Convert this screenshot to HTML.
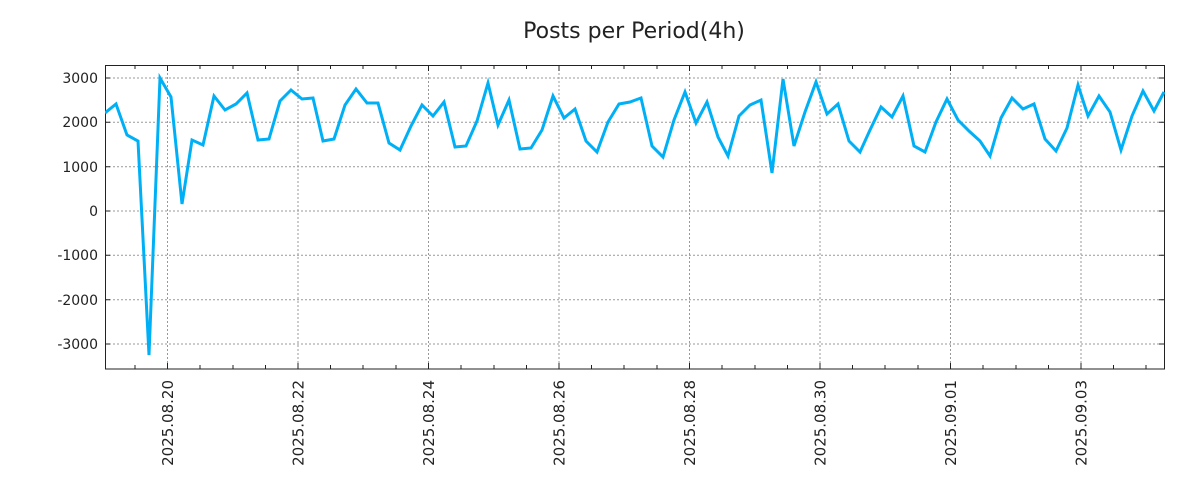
<!DOCTYPE html>
<html><head><style>body{margin:0;background:#fff}svg{display:block;font-family:"DejaVu Sans","Liberation Sans",sans-serif}</style></head>
<body>
<svg width="1200" height="500" viewBox="0 0 1200 500">
<rect width="1200" height="500" fill="#fff"/>
<text x="634" y="38" font-size="22" text-anchor="middle" fill="#222">Posts per Period(4h)</text>
<g stroke="#999" stroke-dasharray="2,2" stroke-width="1">
<line x1="105" x2="1164" y1="78" y2="78"/><line x1="105" x2="1164" y1="122.3" y2="122.3"/><line x1="105" x2="1164" y1="166.7" y2="166.7"/><line x1="105" x2="1164" y1="211" y2="211"/><line x1="105" x2="1164" y1="255.3" y2="255.3"/><line x1="105" x2="1164" y1="299.7" y2="299.7"/><line x1="105" x2="1164" y1="344" y2="344"/>
<line y1="65" y2="369" x1="167.5" x2="167.5"/><line y1="65" y2="369" x1="298" x2="298"/><line y1="65" y2="369" x1="428.5" x2="428.5"/><line y1="65" y2="369" x1="559" x2="559"/><line y1="65" y2="369" x1="689.5" x2="689.5"/><line y1="65" y2="369" x1="820" x2="820"/><line y1="65" y2="369" x1="950.5" x2="950.5"/><line y1="65" y2="369" x1="1081" x2="1081"/>
</g>
<g stroke="#222" stroke-width="1">
<path d="M105,78h5M105,122.3h5M105,166.7h5M105,211h5M105,255.3h5M105,299.7h5M105,344h5M1164,78h-5M1164,122.3h-5M1164,166.7h-5M1164,211h-5M1164,255.3h-5M1164,299.7h-5M1164,344h-5"/>
<path d="M135,65v4M167.5,65v6M200,65v4M233,65v4M265.5,65v4M298,65v6M330.5,65v4M363,65v4M396,65v4M428.5,65v6M461,65v4M494,65v4M526.5,65v4M559,65v6M591.5,65v4M624,65v4M657,65v4M689.5,65v6M722,65v4M755,65v4M787.5,65v4M820,65v6M852.5,65v4M885,65v4M918,65v4M950.5,65v6M983,65v4M1016,65v4M1048.5,65v4M1081,65v6M1113.5,65v4M1146,65v4"/>
<path d="M135,369v-4M167.5,369v-6M200,369v-4M233,369v-4M265.5,369v-4M298,369v-6M330.5,369v-4M363,369v-4M396,369v-4M428.5,369v-6M461,369v-4M494,369v-4M526.5,369v-4M559,369v-6M591.5,369v-4M624,369v-4M657,369v-4M689.5,369v-6M722,369v-4M755,369v-4M787.5,369v-4M820,369v-6M852.5,369v-4M885,369v-4M918,369v-4M950.5,369v-6M983,369v-4M1016,369v-4M1048.5,369v-4M1081,369v-6M1113.5,369v-4M1146,369v-4"/>
</g>
<rect x="105.5" y="65.5" width="1059" height="303.5" fill="none" stroke="#222" stroke-width="1"/>
<g font-size="14" fill="#222" text-anchor="end">
<text x="98" y="83">3000</text><text x="98" y="127">2000</text><text x="98" y="172">1000</text><text x="98" y="216">0</text><text x="98" y="260">-1000</text><text x="98" y="305">-2000</text><text x="98" y="349">-3000</text>
</g>
<g font-size="15" fill="#222" text-anchor="end">
<text transform="translate(173,380) rotate(-90)">2025.08.20</text>
<text transform="translate(303.5,380) rotate(-90)">2025.08.22</text>
<text transform="translate(434,380) rotate(-90)">2025.08.24</text>
<text transform="translate(564.5,380) rotate(-90)">2025.08.26</text>
<text transform="translate(695,380) rotate(-90)">2025.08.28</text>
<text transform="translate(825.5,380) rotate(-90)">2025.08.30</text>
<text transform="translate(956,380) rotate(-90)">2025.09.01</text>
<text transform="translate(1086.5,380) rotate(-90)">2025.09.03</text>
</g>
<svg x="105" y="65" width="1060" height="304" viewBox="105 65 1060 304" overflow="hidden">
<polyline fill="none" stroke="#00b0f6" stroke-width="3" stroke-linejoin="miter" points="105,113 116,104 127,135 138,141 149,355 160,78 171,97 182,204 192,140 203,145 214,96 225,110 236,104 247,93 258,140 269,139 280,101 291,90 302,99 313,98 323,141 334,139 345,105 356,89 367,103 378,103 389,143 400,150 411,126 422,105 433,116 444,102 455,147 466,146 477,121 488,83 498,125 509,100 520,149 531,148 542,130 553,96 564,118 575,109 586,141 597,152 608,122 619,104 630,102 641,98 652,146 663,157 674,120 685,92 696,123 707,102 718,137 728,156 739,116 750,105 761,100 772,173 783,79 794,146 805,112 816,82 827,114 838,104 849,141 860,152 870,130 881,107 892,117 903,96 914,146 925,152 936,122 947,99 958,120 969,131 980,141 990,156 1001,118 1012,98 1023,109 1034,104 1045,139 1056,151 1067,128 1078,85 1088,116 1099,96 1110,112 1121,150 1132,116 1143,91 1154,111 1164,92"/>
</svg>
</svg>
</body></html>
